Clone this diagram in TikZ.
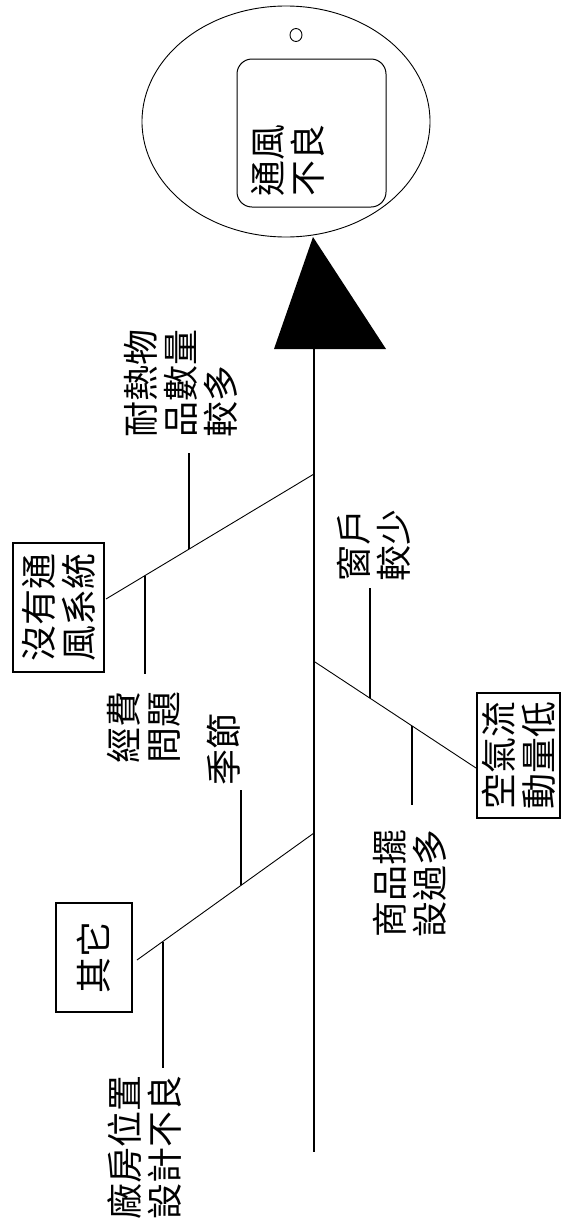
\documentclass[tikz,border=0pt]{standalone}
\usepackage{fontspec}
\newfontfamily\cjk{Noto Sans CJK TC}
\usetikzlibrary{shapes.geometric}
\begin{document}
\begin{tikzpicture}[x=1pt,y=-1pt,
  lbl/.style={font=\cjk\fontsize{36}{40}\selectfont, rotate=90, inner sep=0pt, align=left},
  catbox/.style={draw, line width=1.3pt, rotate=90, inner sep=0pt, align=left,
    font=\cjk\fontsize{36}{40}\selectfont},
  bone/.style={line width=0.9pt},
  twig/.style={line width=1.5pt},
  spine/.style={line width=1.8pt}]
\useasboundingbox (0,0) rectangle (562,1229);

% head
\node[ellipse, draw, line width=0.9pt, minimum width=288pt, minimum height=231pt, inner sep=0pt] (headell) at (286,121.5) {};
\node[ellipse, draw, line width=0.9pt, minimum width=12pt, minimum height=13pt, inner sep=0pt] (dot) at (296,35) {};
\node[draw, line width=1pt, rounded corners=15pt, minimum width=149pt, minimum height=148pt, inner sep=0pt] (headbox) at (311.5,133) {};
\node[lbl] (headtxt) at (288,160) {通風\\不良};

% arrow head and spine
\coordinate (apex) at (313,237);
\coordinate (bl) at (274,349);
\coordinate (br) at (386,349);
\fill (apex) -- (bl) -- (br) -- cycle;
\coordinate (spTop) at (314,349);
\coordinate (spBot) at (314,1152);
\draw[spine] (spTop) -- (spBot);

% branch A
\coordinate (jA) at (314,474);
\coordinate (eA) at (106,599);
\node[catbox, minimum width=129pt, minimum height=91pt] (boxA) at (58.5,607.5) {沒有通\\風系統};
\draw[bone] (jA) -- (eA);
\coordinate (a1b) at (189,549);
\coordinate (a1t) at (189,453);
\draw[twig] (a1b) -- (a1t);
\node[lbl] (tA1) at (181,383) {耐熱物\\品數量\\較多};
\coordinate (a2t) at (145,576);
\coordinate (a2b) at (145,674);
\draw[twig] (a2t) -- (a2b);
\node[lbl] (tA2) at (143.5,727.5) {經費\\問題};

% branch B
\coordinate (jB) at (315,662);
\coordinate (eB) at (476,768);
\node[catbox, minimum width=125pt, minimum height=83pt] (boxB) at (518.5,755.5) {空氣流\\動量低};
\draw[bone] (jB) -- (eB);
\coordinate (b1b) at (370,698);
\coordinate (b1t) at (370,588);
\draw[twig] (b1b) -- (b1t);
\node[lbl] (tB1) at (373.5,545) {窗戶\\較少};
\coordinate (b2t) at (412,726);
\coordinate (b2b) at (412,805);
\draw[twig] (b2t) -- (b2b);
\node[lbl] (tB2) at (409.5,883) {商品擺\\設過多};

% branch C
\coordinate (jC) at (314,833);
\coordinate (eC) at (137,960);
\node[catbox, minimum width=109pt, minimum height=76pt] (boxC) at (94,957.5) {其它};
\draw[bone] (jC) -- (eC);
\coordinate (c1b) at (241,885);
\coordinate (c1t) at (241,790);
\draw[twig] (c1b) -- (c1t);
\node[lbl] (tC1) at (223.5,749.5) {季節};
\coordinate (c2t) at (163,942);
\coordinate (c2b) at (163,1068);
\draw[twig] (c2t) -- (c2b);
\node[lbl] (tC2) at (144.5,1147) {廠房位置\\設計不良};
\end{tikzpicture}
\end{document}
